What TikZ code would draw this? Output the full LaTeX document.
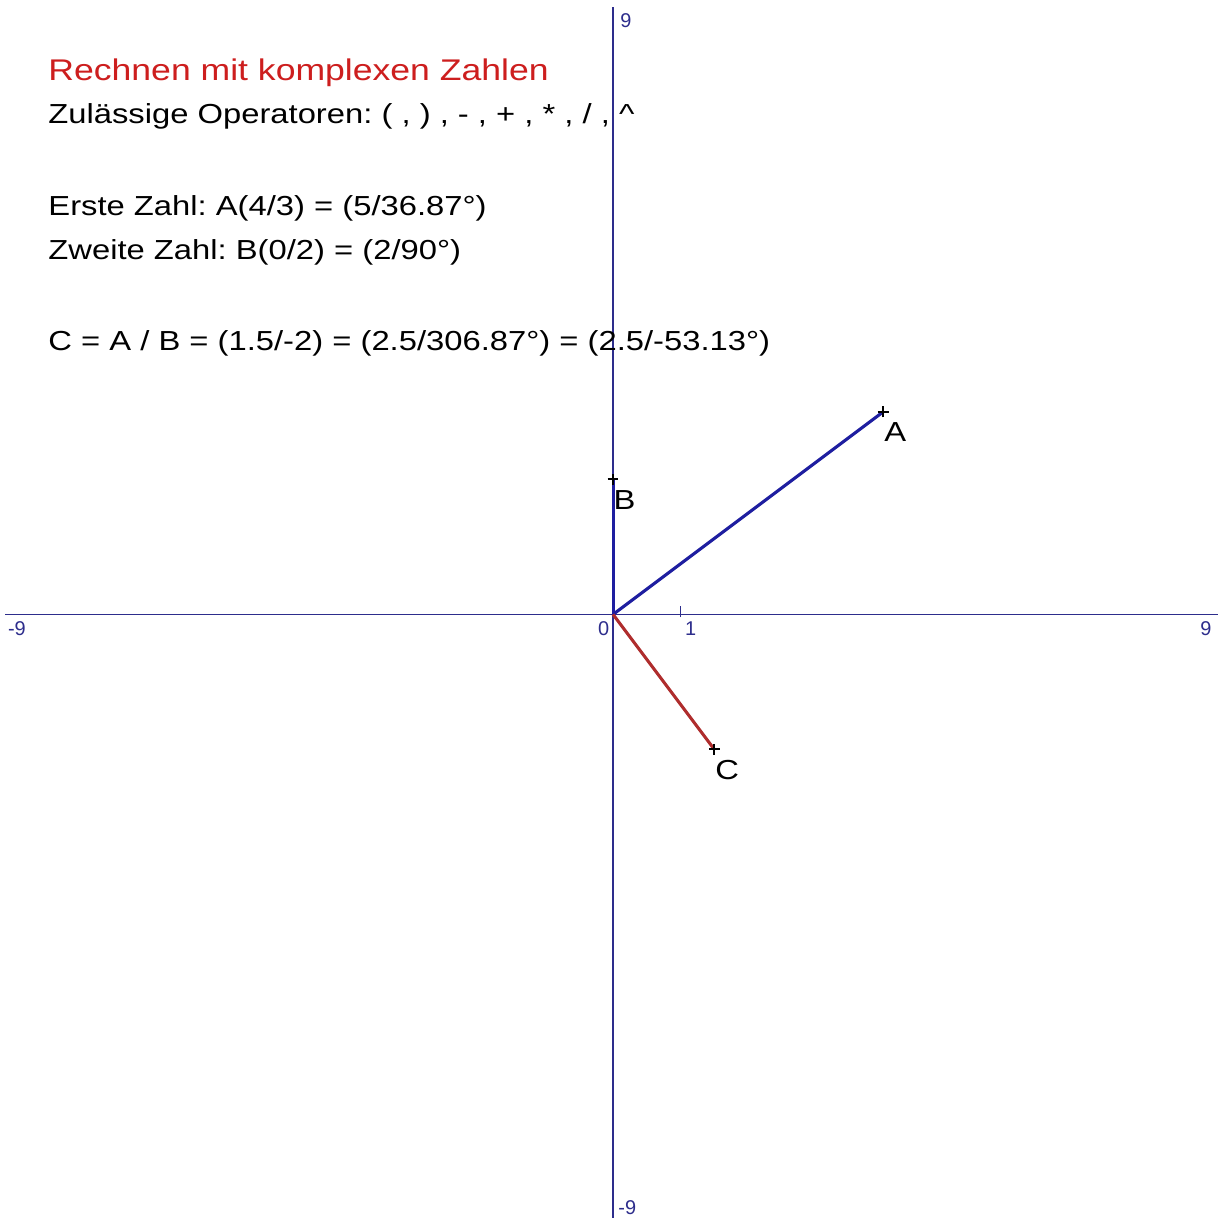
\documentclass[tikz,border=0pt]{standalone}
\usepackage{fontspec}
\setmainfont{Liberation Sans}
\newfontfamily\widefont[FakeStretch=1.19]{Liberation Sans}
\definecolor{axisblue}{RGB}{45,45,140}
\definecolor{vecblue}{RGB}{30,30,160}
\definecolor{vecred}{RGB}{175,45,45}
\definecolor{titlered}{RGB}{205,30,30}
\frenchspacing
\begin{document}
\begin{tikzpicture}[
    axis/.style={draw=axisblue,line width=0.6pt},
    vec/.style={line width=1.3pt},
    ptmark/.style={draw=black,line width=0.8pt},
    axlabel/.style={text=axisblue,font=\fontsize{8.4}{10}\selectfont,inner sep=0pt},
    ptlabel/.style={font=\widefont\fontsize{11.6}{14}\selectfont,inner sep=0pt},
    txt/.style={anchor=base west,inner sep=0pt,font=\widefont\fontsize{11.6}{14}\selectfont}
]
    \useasboundingbox[fill=white] (-9.08,-8.93) rectangle (8.96,9.10);

    \coordinate (O) at (0,0);
    \coordinate (xl) at (-9,0);
    \coordinate (xr) at (9,0);
    \coordinate (yb) at (0,-9);
    \coordinate (yt) at (0,9);
    \coordinate (A) at (4,3);
    \coordinate (B) at (0,2);
    \coordinate (C) at (1.5,-2);

    \draw[axis] (xl)--(xr);
    \draw[axis] (yb)--(yt);
    \draw[axis] (1,-0.04)--(1,0.12);

    \node[axlabel] (xmin) at (-8.83,-0.21) {-9};
    \node[axlabel] (zero) at (-0.14,-0.21) {0};
    \node[axlabel] (one) at (1.15,-0.21) {1};
    \node[axlabel] (xmax) at (8.78,-0.21) {9};
    \node[axlabel] (ymax) at (0.19,8.8) {9};
    \node[axlabel] (ymin) at (0.21,-8.78) {-9};

    \draw[vec,vecblue] (O)--(A);
    \draw[vec,vecblue] (O)--(B);
    \draw[vec,vecred] (O)--(C);

    \foreach \p in {A,B,C}
        \draw[ptmark] (\p) ++(-0.08,0) -- ++(0.16,0) (\p) ++(0,-0.08) -- ++(0,0.16);

    \node[ptlabel] (labA) at (4.18,2.70) {A};
    \node[ptlabel] (labB) at (0.17,1.70) {B};
    \node[ptlabel] (labC) at (1.69,-2.30) {C};

    \node[txt,text=titlered,font=\widefont\fontsize{12.6}{15}\selectfont] (title) at (-8.37,7.91)
        {Rechnen mit komplexen Zahlen};
    \node[txt] (ops) at (-8.37,7.27)
        {Zulässige Operatoren: ( , ) , - , + , * , / , \textasciicircum};
    \node[txt] (first) at (-8.37,5.91)
        {Erste Zahl: A(4/3) = (5/36.87°)};
    \node[txt] (second) at (-8.37,5.26)
        {Zweite Zahl: B(0/2) = (2/90°)};
    \node[txt] (result) at (-8.37,3.91)
        {C = A / B = (1.5/-2) = (2.5/306.87°) = (2.5/-53.13°)};
\end{tikzpicture}
\end{document}
